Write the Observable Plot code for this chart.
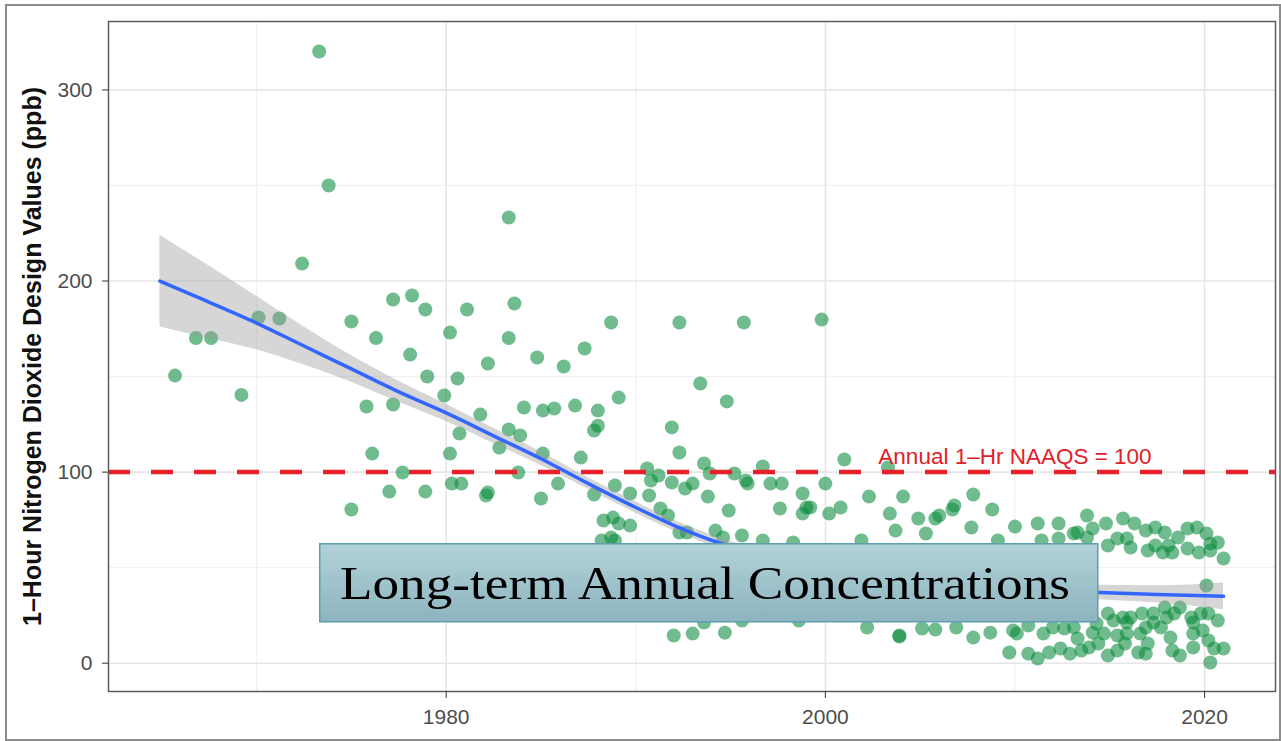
<!DOCTYPE html>
<html>
<head>
<meta charset="utf-8">
<script src="https://cdn.jsdelivr.net/npm/d3@7"></script>
<script src="https://cdn.jsdelivr.net/npm/@observablehq/plot@0.6"></script>
<style>
  html, body { margin: 0; padding: 0; background: #fff; }
  #wrap { position: relative; width: 1281px; height: 741px; overflow: hidden; background: #fff; }
  #chart { position: absolute; left: 0; top: 0; }
  #frame { position: absolute; left: 5px; top: 4px; width: 1276px; height: 737px; border: 2.5px solid #8c8c8c; box-sizing: border-box; pointer-events: none; }
  #callout { position: absolute; left: 319px; top: 543px; overflow: visible; }
</style>
</head>
<body>
<div id="wrap">
  <div id="chart"></div>
  <div id="frame"></div>
  <svg id="callout" width="780" height="80" xmlns="http://www.w3.org/2000/svg">
    <defs>
      <linearGradient id="boxFill" x1="0" y1="0" x2="0" y2="1">
        <stop offset="0" stop-color="#b2d2d8"/>
        <stop offset="1" stop-color="#8db4bf"/>
      </linearGradient>
    </defs>
    <rect x="0.75" y="0.75" width="778" height="78" fill="url(#boxFill)" stroke="#5d9eaf" stroke-width="1.5"/>
    <text id="calloutText" x="21" y="56" font-size="47" fill="#000"
      font-family="'Palatino Linotype', 'Book Antiqua', Palatino, 'Liberation Serif', serif"
      textLength="730" lengthAdjust="spacingAndGlyphs"></text>
  </svg>
</div>
<script>
// ---------- data ----------
const pointYears = [
  1965.7,1966.8,1967.6,1969.2,1970.1,1971.2,1972.4,1973.3,1973.8,1975.0,
  1975.0,1975.8,1976.3,1976.1,1977.0,1977.2,1977.2,1977.7,1978.1,1978.2,
  1978.9,1978.9,1979.0,1979.9,1980.2,1980.2,1980.3,1980.6,1980.8,1980.7,
  1981.1,1981.8,1982.2,1982.2,1982.1,1982.8,1983.3,1983.3,1983.3,1983.6,
  1983.9,1983.8,1984.1,1984.8,1985.0,1985.1,1985.1,1985.7,1985.9,1986.2,
  1986.8,1987.3,1987.1,1987.8,1988.0,1988.0,1987.8,1988.7,1989.1,1988.9,
  1989.7,1988.3,1988.8,1989.1,1989.7,1988.2,1988.7,1988.9,1990.7,1990.6,
  1990.8,1991.2,1991.9,1992.6,1993.0,1992.3,1995.7,1999.8,1993.4,1994.8,
  1991.9,1992.3,1993.6,1993.9,1996.7,2001.0,1995.2,1995.8,1995.9,1997.1,
  1997.7,1998.8,2000.0,1993.8,1994.9,1999.0,1999.2,1998.8,1997.6,2000.2,
  2000.8,1991.3,1991.7,1992.3,1992.7,1994.2,1994.6,1995.6,1996.7,1998.3,
  1992.0,1993.0,1994.7,1993.6,1995.6,1998.6,2003.3,2002.3,2004.1,2003.4,
  2003.7,2004.9,2005.3,2005.8,2006.0,2006.8,2006.7,2007.8,2007.7,2008.8,
  2010.0,2011.2,2012.3,2011.4,2012.3,2001.9,2009.1,2013.3,2013.8,2014.1,
  2014.8,2015.7,2016.3,2014.9,2015.4,2015.9,2016.1,2016.9,2017.4,2017.9,
  2018.1,2017.0,2017.4,2017.8,2018.3,2018.6,2019.1,2019.6,2020.1,2020.3,
  2020.7,2021.0,2019.1,2019.7,2020.3,2002.2,2003.9,2003.9,2005.1,2005.8,
  2006.9,2007.8,2008.7,2009.7,2009.9,2010.1,2010.7,2011.2,2011.8,2011.5,
  2012.0,2012.4,2012.9,2013.1,2013.5,2013.9,2014.4,2014.7,2014.3,2014.9,
  2015.4,2015.8,2015.9,2016.1,2014.9,2015.2,2015.7,2016.5,2016.9,2017.0,
  2016.6,2016.9,2016.7,2017.3,2017.7,2018.0,2018.2,2018.3,2018.7,2017.9,
  2018.7,2019.3,2019.4,2019.4,2019.8,2019.9,2020.2,2020.3,2020.5,2020.7,
  2021.0,2020.1,2013.1,2013.8,2010.7,2012.6,2013.3,2014.1,2015.4,2015.9,
  2017.3,2018.4,2019.4,2020.2
];
const pointValues = [
  150.5,170.2,170.2,140.4,180.9,180.4,209.1,320.1,250.0,80.4,
  178.8,134.3,170.2,109.7,89.8,135.4,190.3,99.8,161.5,192.4,
  185.1,89.8,150.0,140.1,173.0,109.7,94.0,149.0,94.0,120.2,
  185.1,130.1,156.8,89.3,87.8,112.8,170.2,233.2,122.3,188.2,
  119.2,99.8,133.8,160.0,86.2,132.2,109.7,133.3,94.0,155.3,
  134.8,164.7,107.6,88.3,132.2,124.3,121.8,178.3,139.0,93.0,
  88.8,74.7,76.2,73.1,72.0,64.2,65.8,64.2,87.8,101.9,
  95.6,98.2,94.6,91.4,94.0,178.3,178.3,179.8,146.4,137.0,
  123.4,110.3,104.5,99.3,102.9,106.6,99.3,95.6,94.0,94.0,
  94.0,88.8,94.0,87.2,79.9,81.5,81.5,78.3,81.0,78.3,
  81.5,81.0,77.3,68.4,68.4,69.4,65.8,66.8,64.2,63.2,
  14.5,15.5,16.0,21.3,22.3,22.3,102.4,87.2,87.2,78.3,
  69.4,75.7,67.9,75.7,77.3,82.5,80.4,88.3,71.0,80.4,
  71.5,73.1,73.1,64.2,65.3,64.2,64.2,68.4,77.3,70.5,
  73.1,75.7,73.1,61.6,65.3,65.3,60.5,69.4,71.0,68.4,
  61.6,59.0,61.6,57.9,57.9,65.8,70.5,71.0,67.9,62.6,
  63.2,54.8,60.0,57.9,59.0,18.7,14.5,14.0,18.2,17.6,
  18.7,13.4,16.0,5.6,17.1,15.5,5.0,2.5,5.6,15.5,
  18.7,7.7,5.0,18.7,6.6,8.2,10.3,15.5,20.8,4.0,
  6.6,10.3,15.5,23.9,26.0,22.3,23.9,5.6,5.0,10.3,
  15.5,18.7,26.0,26.0,18.7,23.9,13.4,6.6,4.0,29.1,
  29.1,23.9,15.5,8.2,26.0,17.1,11.9,0.4,7.7,22.3,
  7.7,40.7,67.9,65.8,19.7,18.2,12.9,16.0,14.5,21.3,
  21.3,26.0,21.3,26.0
];

// smoothed trend and its confidence band
const smoothYears = [1964.9,1967,1970,1972.5,1975,1977.5,1980,1982.5,1985,1987.5,1990,1992.5,1995,1997.5,2000,2005,2010,2014.4,2017.5,2021];
const smoothFit   = [200,191,178,166,154,142,131,119,107,94,81.5,70,61,55,49,42,38.5,37,36,35];
const smoothLo    = [176,171,164,156,147,136.5,126.5,115,103.5,91,78.5,67.2,58.3,52.5,46.5,39.5,35.7,33.2,31.5,28];
const smoothHi    = [224,211,192,176,161,147.5,135.5,123,110.5,97,84.5,72.8,63.7,57.5,51.5,44.5,41.3,40.8,40.5,42];

const xMajorTicks = [1980, 2000, 2020];
const xMinorTicks = [1970, 1990, 2010];
const yMajorTicks = [0, 100, 200, 300];
const yMinorTicks = [50, 150, 250];

const standardValue = 100;
const standardLabel = "Annual 1\u2013Hr NAAQS = 100";
const standardLabelYear = 2010;
const yTitle = "1\u2013Hour Nitrogen Dioxide Design Values (ppb)";
const calloutText = "Long-term Annual Concentrations";

// ---------- build ----------
const points = pointYears.map((year, i) => ({year, value: pointValues[i]}));
const smooth = smoothYears.map((year, i) => ({year, fit: smoothFit[i], lo: smoothLo[i], hi: smoothHi[i]}));
const annotation = [{year: standardLabelYear, value: standardValue, label: standardLabel}];

const chart = Plot.plot({
  width: 1281,
  height: 741,
  marginLeft: 108,
  marginRight: 6,
  marginTop: 21,
  marginBottom: 50,
  style: {fontFamily: "'Liberation Sans', Arial, Helvetica, sans-serif", fontSize: "21px", background: "transparent", overflow: "visible"},
  x: {domain: [1962.19, 2023.74]},
  y: {domain: [-14.8, 335.8]},
  marks: [
    Plot.gridX(xMinorTicks, {stroke: "#f1f1f1", strokeOpacity: 1, strokeWidth: 1.2}),
    Plot.gridY(yMinorTicks, {stroke: "#f1f1f1", strokeOpacity: 1, strokeWidth: 1.2}),
    Plot.gridX(xMajorTicks, {stroke: "#e6e6e6", strokeOpacity: 1, strokeWidth: 1.6}),
    Plot.gridY(yMajorTicks, {stroke: "#e6e6e6", strokeOpacity: 1, strokeWidth: 1.6}),
    Plot.dot(points, {x: "year", y: "value", r: 7, fill: "#0a8c3c", fillOpacity: 0.58, stroke: "none"}),
    Plot.areaY(smooth, {x: "year", y1: "lo", y2: "hi", fill: "#999999", fillOpacity: 0.4, curve: "monotone-x"}),
    Plot.line(smooth, {x: "year", y: "fit", stroke: "#3366ff", strokeWidth: 3.5, curve: "monotone-x"}),
    Plot.ruleY([standardValue], {stroke: "#e8202a", strokeWidth: 4.5, strokeDasharray: "22,21"}),
    Plot.text(annotation, {x: "year", y: "value", text: "label", fill: "#e0202a", fontSize: 22.5, dy: -15}),
    Plot.frame({stroke: "#5c5c5c", strokeWidth: 1.5}),
    Plot.axisX(xMajorTicks, {tickSize: 7, tickPadding: 11, stroke: "#333", fill: "#4d4d4d", tickFormat: "d", label: null, fontSize: 21}),
    Plot.axisY(yMajorTicks, {tickSize: 6, tickPadding: 10, stroke: "#333", fill: "#4d4d4d", label: null, fontSize: 21}),
    Plot.text([yTitle], {frameAnchor: "left", rotate: -90, dx: -76, text: d => d, textAnchor: "middle", fontSize: 25, fontWeight: "bold", fill: "#111"})
  ]
});
document.getElementById("chart").appendChild(chart);
document.getElementById("calloutText").textContent = calloutText;
</script>
</body>
</html>
